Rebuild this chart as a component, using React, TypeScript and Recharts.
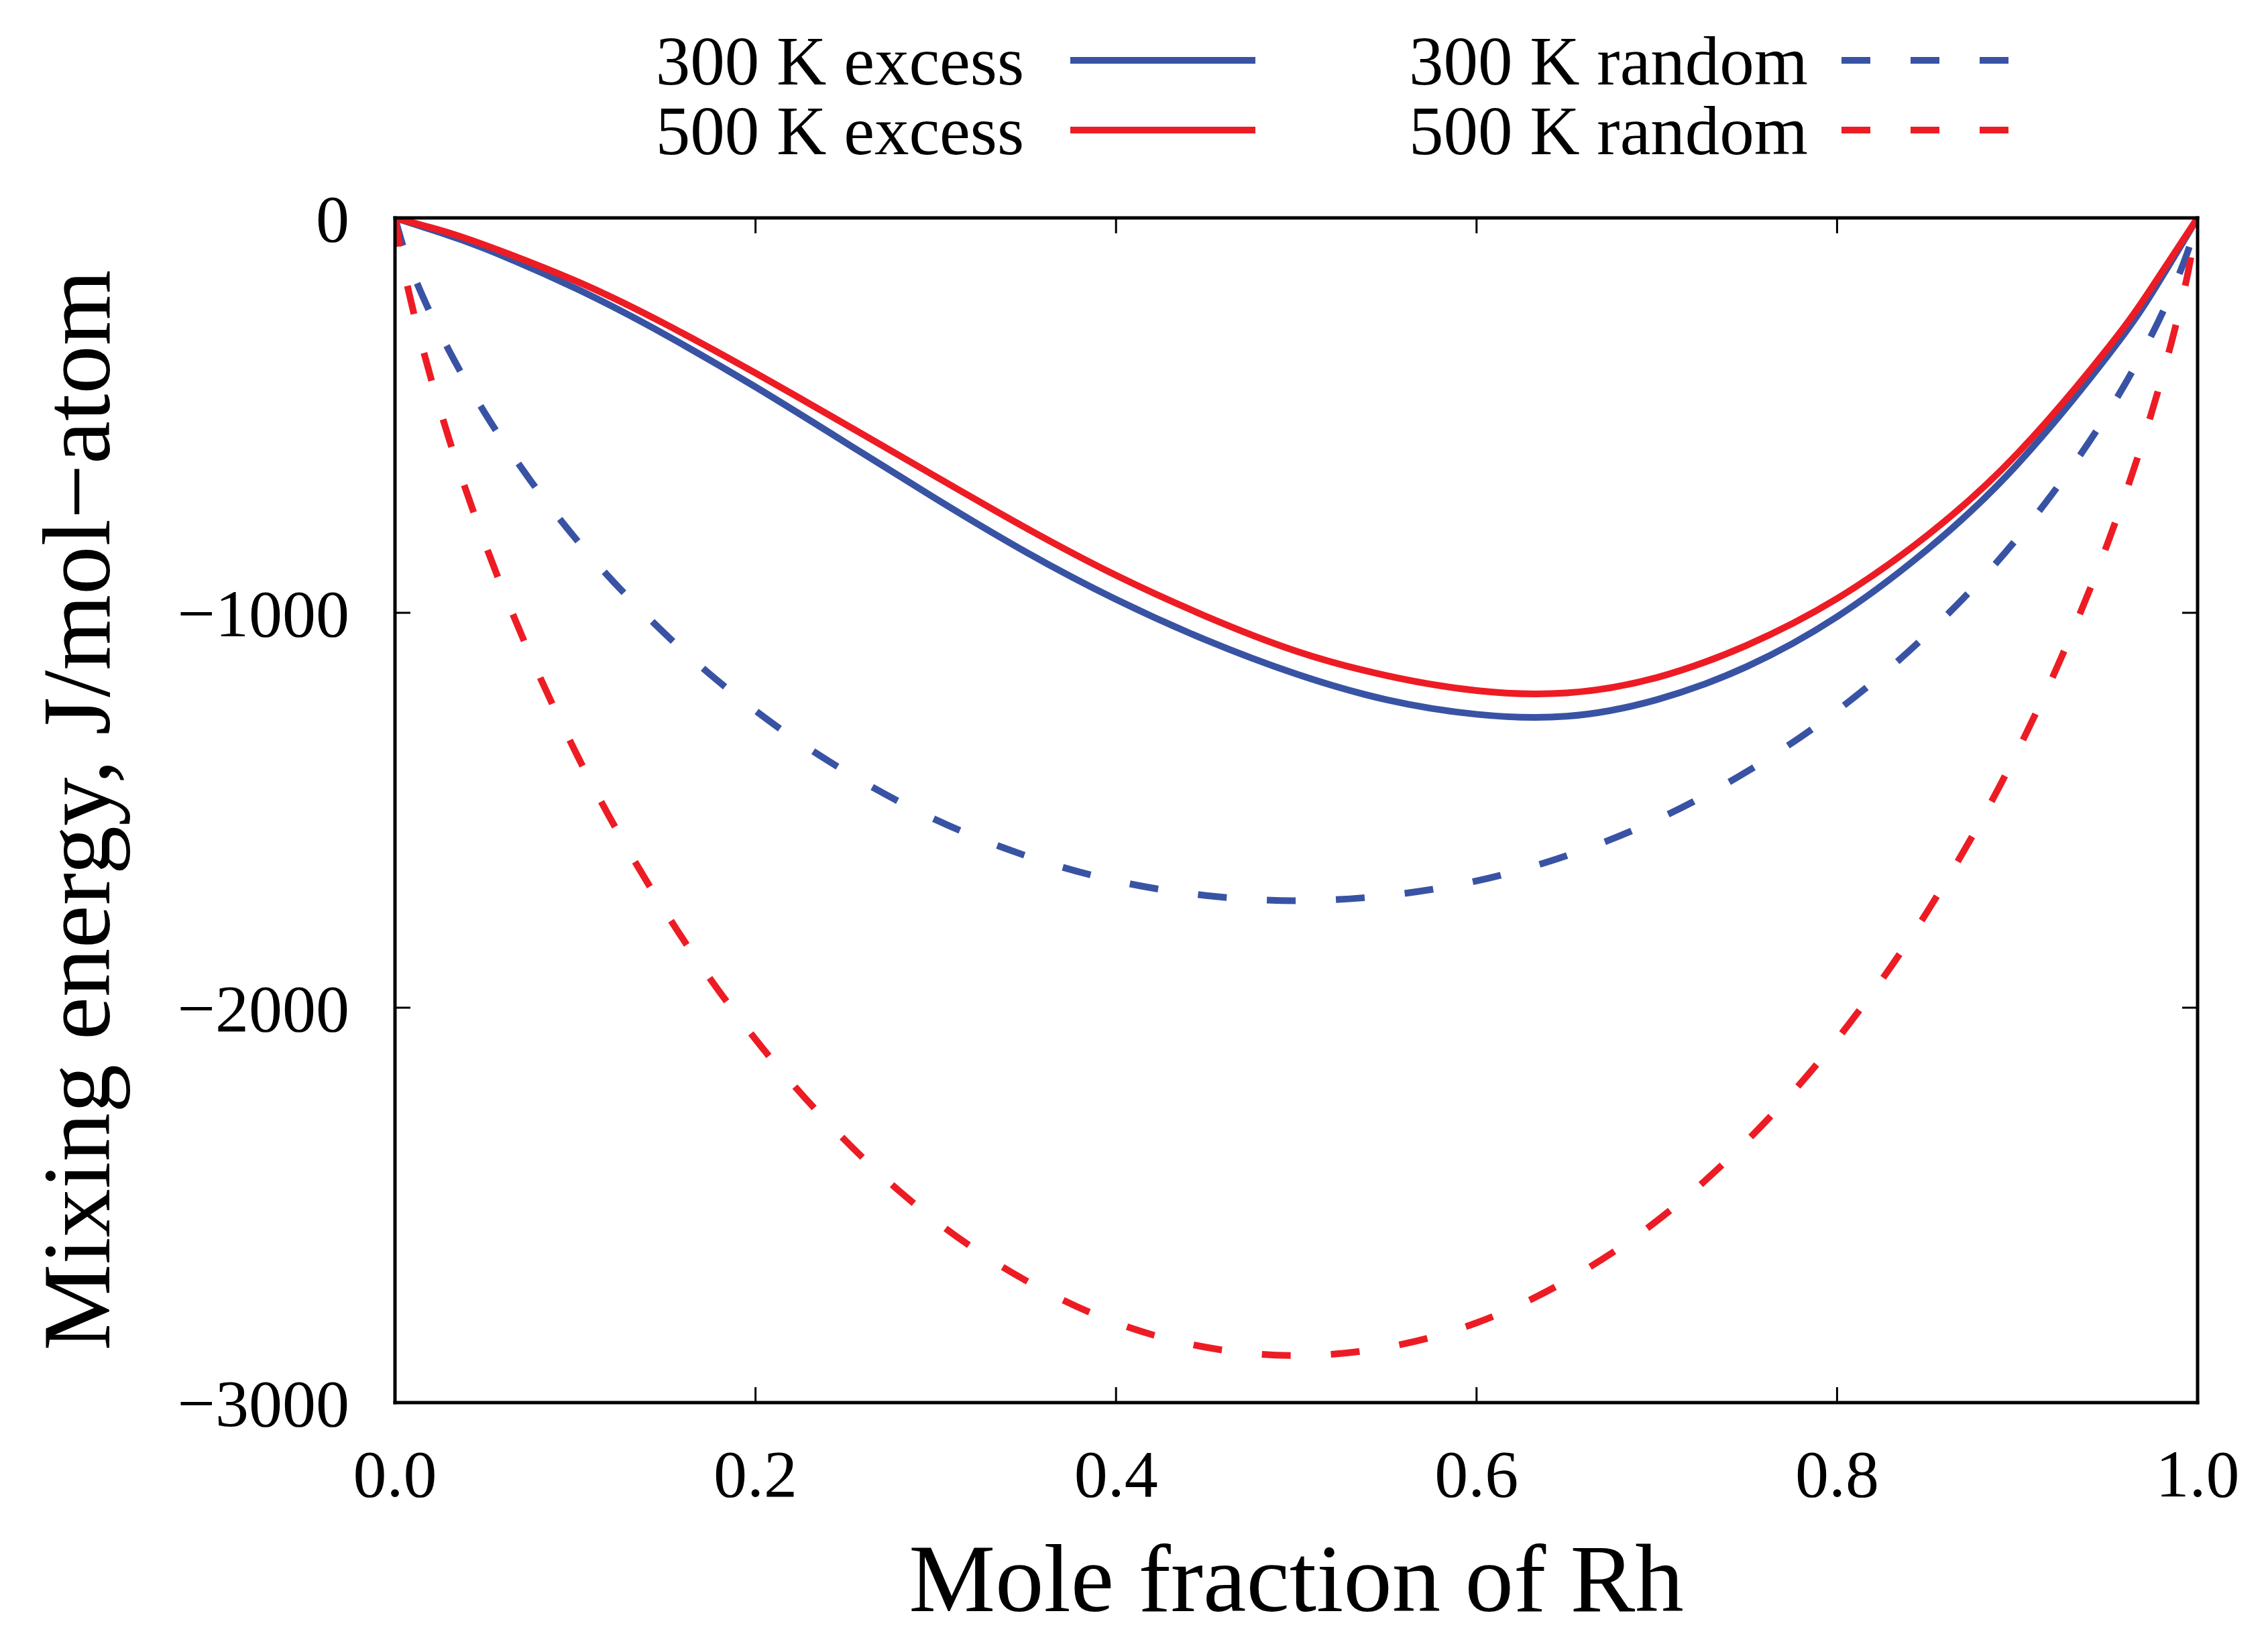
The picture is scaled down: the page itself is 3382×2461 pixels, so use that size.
import React from 'react';
import { LineChart, Line, XAxis, YAxis, Legend } from 'recharts';

// ---- data ----
const xExcess = [0, 0.025, 0.05, 0.1, 0.15, 0.2, 0.25, 0.3, 0.35, 0.4, 0.45, 0.5, 0.55, 0.6, 0.65, 0.7, 0.75, 0.8, 0.85, 0.9, 0.95, 0.975, 1];
const excess300 = [0, -37, -78, -178, -296, -428, -569, -711, -846, -966, -1069, -1155, -1220, -1257, -1262, -1220, -1136, -1010, -840, -624, -350, -188, 0];
const excess500 = [0, -31, -69, -159, -269, -393, -523, -655, -785, -905, -1009, -1097, -1159, -1197, -1203, -1164, -1082, -964, -804, -597, -331, -173, 0];

const xRandom = [0, 0.005, 0.01, 0.02, 0.03, 0.05, 0.075, 0.1, 0.15, 0.2, 0.25, 0.3, 0.35, 0.4, 0.45, 0.5, 0.55, 0.6, 0.65, 0.7, 0.75, 0.8, 0.85, 0.9, 0.925, 0.95, 0.97, 0.98, 0.99, 0.995, 1];
const random300 = [0, -79, -140, -245, -336, -495, -664, -811, -1054, -1248, -1402, -1524, -1615, -1679, -1716, -1729, -1716, -1679, -1615, -1524, -1402, -1248, -1054, -811, -664, -495, -336, -245, -140, -79, 0];
const random500 = [0, -131, -233, -407, -560, -825, -1107, -1351, -1757, -2080, -2337, -2540, -2691, -2798, -2860, -2881, -2860, -2798, -2691, -2540, -2337, -2080, -1757, -1351, -1107, -825, -560, -407, -233, -131, 0];

const xTicks = [0, 0.2, 0.4, 0.6, 0.8, 1];
const xTickLabels = ['0.0', '0.2', '0.4', '0.6', '0.8', '1.0'];
const yTicks = [0, -1000, -2000, -3000];
const yTickLabels = ['0', '\u22121000', '\u22122000', '\u22123000'];

const seriesNames = ['300 K excess', '500 K excess', '300 K random', '500 K random'];
const BLUE = '#3953A4';
const RED = '#ED1C24';

const xLabel = 'Mole fraction of Rh';
const yLabel = 'Mixing energy, J/mol\u2212atom';

// ---- layout ----
const W = 3374;
const H = 2453;
const FONT = "'Liberation Serif', 'Times New Roman', Times, serif";
const TICK_LEN = 23;
const DASH = '43 60';
const LW = 10;

const toPoints = (xs: number[], ys: number[]) => xs.map((x, i) => ({ x, y: ys[i] }));
const dataE300 = toPoints(xExcess, excess300);
const dataE500 = toPoints(xExcess, excess500);
const dataR300 = toPoints(xRandom, random300);
const dataR500 = toPoints(xRandom, random500);

const labelFor = (ticks: number[], labels: string[], v: number) => {
  const i = ticks.findIndex((t) => Math.abs(t - v) < 1e-9);
  return i >= 0 ? labels[i] : String(v);
};

const BottomTick = (props: any) => {
  const { x, y, payload } = props;
  return (
    <g>
      <line x1={x} y1={y} x2={x} y2={y - TICK_LEN} stroke="#000" strokeWidth={3} />
      <text x={x} y={y + 140} textAnchor="middle" fontSize={100} fontFamily={FONT} fill="#000">
        {labelFor(xTicks, xTickLabels, payload.value)}
      </text>
    </g>
  );
};

const TopTick = (props: any) => {
  const { x, y } = props;
  return <line x1={x} y1={y} x2={x} y2={y + TICK_LEN} stroke="#000" strokeWidth={3} />;
};

const LeftTick = (props: any) => {
  const { x, y, payload } = props;
  return (
    <g>
      <line x1={x} y1={y} x2={x + TICK_LEN} y2={y} stroke="#000" strokeWidth={3} />
      <text x={x - 68} y={y + 35} textAnchor="end" fontSize={100} fontFamily={FONT} fill="#000">
        {labelFor(yTicks, yTickLabels, payload.value)}
      </text>
    </g>
  );
};

const RightTick = (props: any) => {
  const { x, y } = props;
  return <line x1={x} y1={y} x2={x - TICK_LEN} y2={y} stroke="#000" strokeWidth={3} />;
};

const XTitle = (props: any) => {
  const vb = props.viewBox || {};
  const cx = vb.x + vb.width / 2;
  const by = vb.y + 311;
  return (
    <text x={cx} y={by} textAnchor="middle" fontSize={145} fontFamily={FONT} fill="#000">
      {xLabel}
    </text>
  );
};

const YTitle = (props: any) => {
  const vb = props.viewBox || {};
  const plotLeft = vb.x + vb.width;
  const bx = plotLeft - 426;
  const cy = vb.y + vb.height / 2;
  return (
    <text
      x={bx}
      y={cy}
      transform={`rotate(-90, ${bx}, ${cy})`}
      textAnchor="middle"
      fontSize={145}
      fontFamily={FONT}
      fill="#000"
    >
      {yLabel}
    </text>
  );
};

const legendItems = [
  { name: seriesNames[0], color: BLUE, dash: undefined as string | undefined, textRight: 1519, x1: 1588, x2: 1864, lineY: 82, baseY: 118 },
  { name: seriesNames[1], color: RED, dash: undefined as string | undefined, textRight: 1519, x1: 1588, x2: 1864, lineY: 186, baseY: 222 },
  { name: seriesNames[2], color: BLUE, dash: DASH, textRight: 2688, x1: 2738, x2: 2990, lineY: 82, baseY: 118 },
  { name: seriesNames[3], color: RED, dash: DASH, textRight: 2688, x1: 2738, x2: 2990, lineY: 186, baseY: 222 },
];

const LegendContent = () => (
  <svg width={W} height={260} style={{ display: 'block' }}>
    {legendItems.map((it) => (
      <g key={it.name}>
        <text x={it.textRight} y={it.baseY} textAnchor="end" fontSize={103} fontFamily={FONT} fill="#000">
          {it.name}
        </text>
        <line x1={it.x1} y1={it.lineY} x2={it.x2} y2={it.lineY} stroke={it.color} strokeWidth={LW} strokeDasharray={it.dash} />
      </g>
    ))}
  </svg>
);

const axisLineStyle = { stroke: '#000', strokeWidth: 5, strokeLinecap: 'square' as const };

export default function App() {
  return (
    <div style={{ width: W, height: H, background: '#fff' }}>
      <LineChart width={W} height={H} margin={{ top: 297, right: 85, bottom: 269, left: 481 }}>
        <XAxis
          xAxisId="b"
          dataKey="x"
          type="number"
          domain={[0, 1]}
          allowDataOverflow
          ticks={xTicks}
          interval={0}
          orientation="bottom"
          height={100}
          tickSize={0}
          tickMargin={0}
          tickLine={false}
          axisLine={axisLineStyle}
          tick={<BottomTick />}
          label={<XTitle />}
        />
        <XAxis
          xAxisId="t"
          dataKey="x"
          type="number"
          domain={[0, 1]}
          allowDataOverflow
          ticks={xTicks}
          interval={0}
          orientation="top"
          height={20}
          tickSize={0}
          tickMargin={0}
          tickLine={false}
          axisLine={axisLineStyle}
          tick={<TopTick />}
        />
        <YAxis
          yAxisId="l"
          type="number"
          domain={[-3000, 0]}
          allowDataOverflow
          ticks={yTicks}
          interval={0}
          orientation="left"
          width={100}
          tickSize={0}
          tickMargin={0}
          tickLine={false}
          axisLine={axisLineStyle}
          tick={<LeftTick />}
          label={<YTitle />}
        />
        <YAxis
          yAxisId="r"
          type="number"
          domain={[-3000, 0]}
          allowDataOverflow
          ticks={yTicks}
          interval={0}
          orientation="right"
          width={20}
          tickSize={0}
          tickMargin={0}
          tickLine={false}
          axisLine={axisLineStyle}
          tick={<RightTick />}
        />
        <Legend
          layout="horizontal"
          verticalAlign="middle"
          align="center"
          wrapperStyle={{ top: 0, left: 0, width: W, height: 260 }}
          content={<LegendContent />}
        />
        <Line
          xAxisId="b"
          yAxisId="l"
          data={dataE300}
          dataKey="y"
          name={seriesNames[0]}
          type="natural"
          stroke={BLUE}
          strokeWidth={LW}
          dot={false}
          activeDot={false}
          isAnimationActive={false}
        />
        <Line
          xAxisId="b"
          yAxisId="l"
          data={dataE500}
          dataKey="y"
          name={seriesNames[1]}
          type="natural"
          stroke={RED}
          strokeWidth={LW}
          dot={false}
          activeDot={false}
          isAnimationActive={false}
        />
        <Line
          xAxisId="b"
          yAxisId="l"
          data={dataR300}
          dataKey="y"
          name={seriesNames[2]}
          type="monotone"
          stroke={BLUE}
          strokeWidth={LW}
          strokeDasharray={DASH}
          dot={false}
          activeDot={false}
          isAnimationActive={false}
        />
        <Line
          xAxisId="b"
          yAxisId="l"
          data={dataR500}
          dataKey="y"
          name={seriesNames[3]}
          type="monotone"
          stroke={RED}
          strokeWidth={LW}
          strokeDasharray={DASH}
          dot={false}
          activeDot={false}
          isAnimationActive={false}
        />
      </LineChart>
    </div>
  );
}
